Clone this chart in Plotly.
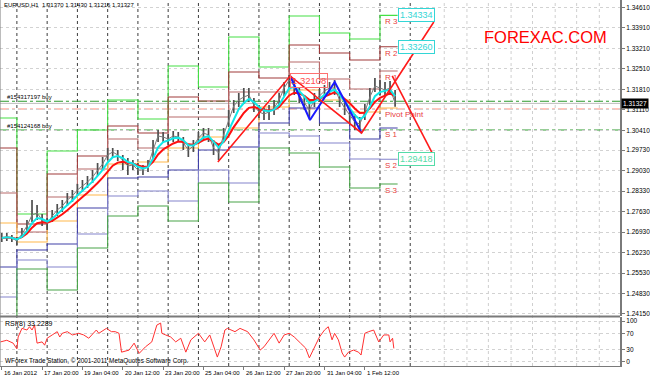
import plotly.graph_objects as go
import pandas as pd

FONT = "Liberation Sans, Arial, sans-serif"

# ---------------- data (time axis = trading hours since 16 Jan 2012 00:00) ----------------
bar_hours = list(range(12, 325, 4))
close = [1.26729, 1.26763, 1.26729, 1.26626, 1.26866, 1.27139, 1.27515, 1.27583, 1.27344, 1.27207,
         1.27480, 1.27685, 1.27822, 1.28027, 1.28164, 1.28369, 1.28505, 1.28642, 1.28813, 1.29052,
         1.29257, 1.29564, 1.29667, 1.29564, 1.29393, 1.29188, 1.29223, 1.29052, 1.29052, 1.29188,
         1.29735, 1.30213, 1.30179, 1.30111, 1.30213, 1.30179, 1.29974, 1.29735, 1.29872, 1.30145,
         1.30316, 1.30247, 1.29803, 1.29633, 1.30247, 1.30760, 1.31238, 1.31443, 1.31545, 1.31614,
         1.31272, 1.31033, 1.30965, 1.31033, 1.31170, 1.31443, 1.31853, 1.32126, 1.31921, 1.31614,
         1.31375, 1.31101, 1.31443, 1.31580, 1.31750, 1.31853, 1.31853, 1.31443, 1.31170, 1.30931,
         1.30691, 1.30623, 1.31033, 1.31545, 1.31921, 1.31853, 1.31785, 1.31853, 1.31327]
high = [1.26900, 1.26900, 1.26831, 1.26763, 1.27071, 1.27344, 1.28027, 1.27856, 1.27549, 1.27412,
        1.27685, 1.27890, 1.28027, 1.28266, 1.28369, 1.28574, 1.28710, 1.28847, 1.29052, 1.29291,
        1.29496, 1.29803, 1.29803, 1.29735, 1.29564, 1.29462, 1.29393, 1.29291, 1.29223, 1.29393,
        1.30077,
        1.30418, 1.30350, 1.30282, 1.30384, 1.30350, 1.30179, 1.29906, 1.30077, 1.30350,
        1.30487, 1.30487, 1.30077, 1.29906, 1.30487, 1.31101, 1.31443, 1.31682, 1.31853, 1.31853,
        1.31511, 1.31272, 1.31170, 1.31272, 1.31443, 1.31682, 1.32058, 1.32297, 1.32195, 1.31853,
        1.31614, 1.31375, 1.31682, 1.31819, 1.31955, 1.32058, 1.32126, 1.31716, 1.31443, 1.31170,
        1.30965, 1.30862, 1.31306, 1.31853, 1.32195, 1.32126, 1.32058, 1.32092, 1.31785]
low = [1.26592, 1.26626, 1.26592, 1.26490, 1.26729, 1.26934, 1.27275, 1.27344, 1.27139, 1.27002,
       1.27275, 1.27480, 1.27617, 1.27822, 1.27959, 1.28164, 1.28300, 1.28437, 1.28608, 1.28847,
       1.29052, 1.29393, 1.29462, 1.29359, 1.29052, 1.28881, 1.29052, 1.28881, 1.28881, 1.28983,
       1.29462,
       1.30008, 1.30008, 1.29906, 1.30008, 1.30008, 1.29735, 1.29496, 1.29667, 1.29940,
       1.30077, 1.30008, 1.29564, 1.29393, 1.30008, 1.30521, 1.30999, 1.31204, 1.31306, 1.31375,
       1.31033, 1.30828, 1.30760, 1.30760, 1.30931, 1.31204, 1.31580, 1.31853, 1.31614, 1.31341,
       1.31101, 1.30828, 1.31204, 1.31375, 1.31545, 1.31614, 1.31614, 1.31204, 1.30931, 1.30657,
       1.30418, 1.30384, 1.30760, 1.31272, 1.31716, 1.31614, 1.31580, 1.31614, 1.31216]

# daily pivot levels (16 Jan .. 2 Feb)
day_start_h = [0, 24, 48, 72, 96, 120, 144, 168, 192, 216, 240, 264, 288, 312]
last_day_end_h = 326
R3 = [1.30828, 1.27549, 1.29701, 1.30418, 1.31443, 1.30794, 1.32604, 1.31887, 1.33595, 1.32570, 1.34312, 1.33732, 1.33527, 1.34334]
R2 = [1.29803, 1.27207, 1.28915, 1.29530, 1.30555, 1.30316, 1.31545, 1.31409, 1.32399, 1.32195, 1.33322, 1.33048, 1.32809, 1.33260]
R1 = [1.28266, 1.26934, 1.28129, 1.29086, 1.30111, 1.29803, 1.30862, 1.30862, 1.31716, 1.31716, 1.32741, 1.32160, 1.31819, 1.32434]
PP = [1.27241, 1.26592, 1.27310, 1.28198, 1.29257, 1.29325, 1.29803, 1.30179, 1.30487, 1.31204, 1.31785, 1.31443, 1.31033, 1.31170]
S1 = [1.25738, 1.26319, 1.26524, 1.27754, 1.28778, 1.28813, 1.29052, 1.29735, 1.29838, 1.30657, 1.31170, 1.30657, 1.30111, 1.30487]
S2 = [1.24714, 1.25977, 1.25738, 1.26866, 1.28164, 1.28334, 1.27993, 1.29052, 1.28608, 1.30316, 1.30213, 1.29974, 1.29427, 1.29418]
S3 = [1.23586, 1.25670, 1.24953, 1.26387, 1.27480, 1.27822, 1.27310, 1.28608, 1.27959, 1.29803, 1.29632, 1.29154, 1.28437, 1.28574]
pivot_names = ["R 3", "R 2", "R 1", "Pivot Point", "S 1", "S 2", "S 3"]
pivot_colors = ["#44e044", "#a03a3a", "#b86a6a", "#ffb84a", "#4040a8", "#8484cc", "#48a448"]
boxed_levels = [("1.34334", 1.34334, "#33d6d6"), ("1.33260", 1.33260, "#33d6d6"), ("1.29418", 1.29418, "#55dca8")]

# zigzag / pattern lines
zig_red_h = [183.4, 240.8, 297.4, 354.7]
zig_red_p = [1.29325, 1.32263, 1.30316, 1.34107]
proj_red_h = [321.7, 353.9]
proj_red_p = [1.32263, 1.29598]
zig_blue_h = [240.8, 256.5, 276.1, 297.4]
zig_blue_p = [1.32263, 1.30760, 1.32058, 1.30316]
peak_label = "1.32108"
peak_label_p = 1.32108

# order / price lines
order_lines = [("#154317197 buy", 1.31400), ("#154124168 buy", 1.30418)]
red_dashdot_p = 1.31135
bid_p = 1.31327

# RSI(8)
rsi_hours = [11, 16, 21, 24, 25, 28, 32, 34, 36, 38, 40, 44, 46, 48, 52, 56, 58, 60, 64, 68,
             73, 77, 81, 87, 89, 95, 99, 102, 105, 107, 113, 117, 121, 126, 131, 135, 138, 139, 142, 146,
             150, 154, 158, 162, 168, 173, 177, 181, 183, 186, 189, 191, 197, 201, 207, 212, 217, 220, 224, 228,
             232, 236, 240, 244, 249, 253, 256, 260, 264, 268, 271, 274, 276, 279, 282, 284, 287, 291, 295, 297,
             300, 303, 307, 311, 315, 319, 320, 322, 323]
rsi_vals = [49, 53, 46, 32, 61, 82, 78, 86, 78, 90, 46, 49, 41, 58, 66, 74, 61, 70, 74, 66,
            70, 66, 58, 78, 70, 82, 74, 74, 70, 24, 29, 46, 21, 37, 49, 90, 95, 70, 66, 61,
            49, 58, 24, 54, 70, 49, 66, 29, 12, 37, 78, 82, 74, 82, 74, 54, 29, 37, 54, 70,
            46, 66, 70, 61, 46, 34, 10, 37, 61, 78, 86, 54, 70, 54, 22, 12, 24, 29, 24, 17,
            70, 74, 78, 49, 66, 66, 49, 58, 33.2289]

# axes
price_ticks = [1.34610, 1.33910, 1.33210, 1.32510, 1.31810, 1.31110, 1.30410, 1.29730,
               1.29030, 1.28330, 1.27630, 1.26930, 1.26230, 1.25530, 1.24830, 1.24150]
time_tick_h = [12, 44, 76, 108, 140, 172, 204, 236, 268, 300]
time_tick_text = ["16 Jan 2012", "17 Jan 20:00", "19 Jan 04:00", "20 Jan 12:00", "23 Jan 20:00",
                  "25 Jan 04:00", "26 Jan 12:00", "27 Jan 20:00", "31 Jan 04:00", "1 Feb 12:00"]
separator_h = [24, 48, 72, 96, 120, 144, 168, 192, 216, 240, 264, 288, 312, 336]
future_grid_h = [363, 381, 398, 416, 433, 451, 468, 486]
rsi_ticks = [0, 30, 70, 100]

# ---------------- figure ----------------
fig = go.Figure()

# pivot step lines
for name, vals, col in zip(pivot_names, [R3, R2, R1, PP, S1, S2, S3], pivot_colors):
    fig.add_trace(go.Scatter(x=day_start_h + [last_day_end_h], y=vals + [vals[-1]],
                             mode="lines", line=dict(color=col, width=1.1, shape="hv"),
                             hoverinfo="skip"))

# price bars (high-low sticks)
sx, sy = [], []
for h, hi, lo in zip(bar_hours, high, low):
    sx += [h, h, None]
    sy += [lo, hi, None]
fig.add_trace(go.Scatter(x=sx, y=sy, mode="lines", line=dict(color="#4e4e4e", width=1.7), hoverinfo="skip"))
fig.add_trace(go.Scatter(x=bar_hours, y=close, mode="lines", line=dict(color="#7a7a7a", width=1), hoverinfo="skip"))

# moving averages
s = pd.Series(close)
ma_fast = s.ewm(span=3).mean()
ma_slow = s.ewm(span=6).mean()
fig.add_trace(go.Scatter(x=bar_hours, y=ma_slow, mode="lines", line=dict(color="#ff1010", width=2), hoverinfo="skip"))
fig.add_trace(go.Scatter(x=bar_hours, y=ma_fast, mode="lines", line=dict(color="#10e8e8", width=2), hoverinfo="skip"))

# zigzags
fig.add_trace(go.Scatter(x=zig_blue_h, y=zig_blue_p, mode="lines", line=dict(color="#1a1aff", width=2), hoverinfo="skip"))
fig.add_trace(go.Scatter(x=zig_red_h, y=zig_red_p, mode="lines", line=dict(color="#ff1a1a", width=1.6), hoverinfo="skip"))
fig.add_trace(go.Scatter(x=proj_red_h, y=proj_red_p, mode="lines", line=dict(color="#ff1a1a", width=1.6), hoverinfo="skip"))

# RSI
fig.add_trace(go.Scatter(x=rsi_hours, y=rsi_vals, mode="lines", yaxis="y2",
                         line=dict(color="#ff3030", width=1), hoverinfo="skip"))

shapes = []
for h in future_grid_h:
    shapes.append(dict(type="line", xref="x", yref="paper", x0=h, x1=h, y0=0, y1=1,
                       line=dict(color="#cfcfcf", width=1, dash="dot"), layer="below"))
for h in separator_h:
    shapes.append(dict(type="line", xref="x", yref="paper", x0=h, x1=h, y0=0, y1=1,
                       line=dict(color="#3c3c3c", width=1, dash="dot"), layer="below"))
for _, p in order_lines:
    shapes.append(dict(type="line", xref="paper", yref="y", x0=0, x1=1, y0=p, y1=p,
                       line=dict(color="#2e9a2e", width=1, dash="dashdot"), layer="below"))
shapes.append(dict(type="line", xref="paper", yref="y", x0=0, x1=1, y0=bid_p, y1=bid_p,
                   line=dict(color="#bdbdbd", width=1), layer="below"))
shapes.append(dict(type="line", xref="paper", yref="y", x0=0, x1=1, y0=red_dashdot_p, y1=red_dashdot_p,
                   line=dict(color="#ff8a7a", width=1, dash="dashdot"), layer="below"))
# panel separator and frame
shapes.append(dict(type="line", xref="paper", yref="paper", x0=0, x1=1, y0=0.1355, y1=0.1355,
                   line=dict(color="#7a7a7a", width=2)))
shapes.append(dict(type="line", xref="paper", yref="paper", x0=0, x1=0, y0=0, y1=1,
                   line=dict(color="#7a7a7a", width=1)))

ann = []
small = dict(family=FONT, size=6, color="#000000")
ann.append(dict(xref="paper", yref="paper", x=0.004, y=0.999, xanchor="left", yanchor="top",
                text="EURUSD,H1  1.31370 1.31430 1.31216 1.31327", showarrow=False, font=small))
for txt, p in order_lines:
    ann.append(dict(xref="paper", yref="y", x=0.008, y=p, xanchor="left", yanchor="bottom",
                    text=txt, showarrow=False, font=small, yshift=-1))
ann.append(dict(xref="paper", yref="paper", x=0.778, y=0.899, xanchor="left", yanchor="middle",
                text="FOREXAC.COM", showarrow=False, font=dict(family=FONT, size=16.5, color="#ff0000")))
for name, vals in zip(pivot_names, [R3, R2, R1, PP, S1, S2, S3]):
    ann.append(dict(xref="x", yref="y", x=314.7, y=vals[-1], xanchor="left", yanchor="top",
                    text=name, showarrow=False, font=dict(family=FONT, size=8, color="#e84040")))
for txt, p, col in boxed_levels:
    ann.append(dict(xref="x", yref="y", x=326.0, y=p, xanchor="left", yanchor="middle",
                    text=txt, showarrow=False, bgcolor="#ffffff", bordercolor=col, borderwidth=1,
                    borderpad=1, font=dict(family=FONT, size=9, color=col)))
ann.append(dict(xref="x", yref="y", x=zig_red_h[1], y=peak_label_p, xanchor="left", yanchor="middle",
                text=peak_label, showarrow=False, bordercolor="#ff7070", borderwidth=1, borderpad=1,
                font=dict(family=FONT, size=9.5, color="#ff5050")))
# current price marker on axis
ann.append(dict(xref="paper", yref="y", x=1.0, y=bid_p, xanchor="left", yanchor="middle", xshift=1,
                text="1.31327", showarrow=False, bgcolor="#000000", borderpad=1,
                font=dict(family=FONT, size=6.5, color="#ffffff")))
# time labels
for h, t in zip(time_tick_h, time_tick_text):
    ann.append(dict(xref="x", yref="paper", x=h, y=-0.006, xanchor="left", yanchor="top",
                    text=t, showarrow=False, font=small))
ann.append(dict(xref="paper", yref="paper", x=0.005, y=0.115, xanchor="left", yanchor="middle",
                text="RSI(8) 33.2289", showarrow=False, font=dict(family=FONT, size=7, color="#000000")))
ann.append(dict(xref="paper", yref="paper", x=0.005, y=0.014, xanchor="left", yanchor="middle",
                text="WForex Trade Station, © 2001-2011 MetaQuotes Software Corp.", showarrow=False,
                font=dict(family=FONT, size=6.4, color="#000000")))

fig.update_layout(
    width=650, height=378, margin=dict(l=0, r=24, t=0, b=12),
    paper_bgcolor="#ffffff", plot_bgcolor="#ffffff", showlegend=False,
    shapes=shapes, annotations=ann,
    xaxis=dict(domain=[0, 1], range=[10.6, 502.4], anchor="y2", showgrid=False, zeroline=False,
               tickvals=time_tick_h, showticklabels=False, ticks="outside", ticklen=3,
               tickcolor="#7a7a7a", showline=True, linecolor="#7a7a7a", linewidth=1,
               rangeslider=dict(visible=False)),
    yaxis=dict(domain=[0.1366, 1], range=[1.24064, 1.34859], side="right", anchor="x",
               tickvals=price_ticks, ticktext=[f"{v:.5f}" for v in price_ticks],
               tickfont=dict(family=FONT, size=6.5, color="#000000"), ticks="outside", ticklen=3,
               tickcolor="#7a7a7a", showgrid=True, gridcolor="#d2d2d2", griddash="dot",
               zeroline=False, showline=True, linecolor="#7a7a7a", linewidth=2),
    yaxis2=dict(domain=[0, 0.1339], range=[-9.8, 109.8], side="right", anchor="x",
                tickvals=rsi_ticks, tickfont=dict(family=FONT, size=6.5, color="#000000"),
                ticks="outside", ticklen=3, tickcolor="#7a7a7a", showgrid=True,
                gridcolor="#d2d2d2", griddash="dot", zeroline=False, showline=True,
                linecolor="#7a7a7a", linewidth=2),
)

fig.write_html("out.html")
